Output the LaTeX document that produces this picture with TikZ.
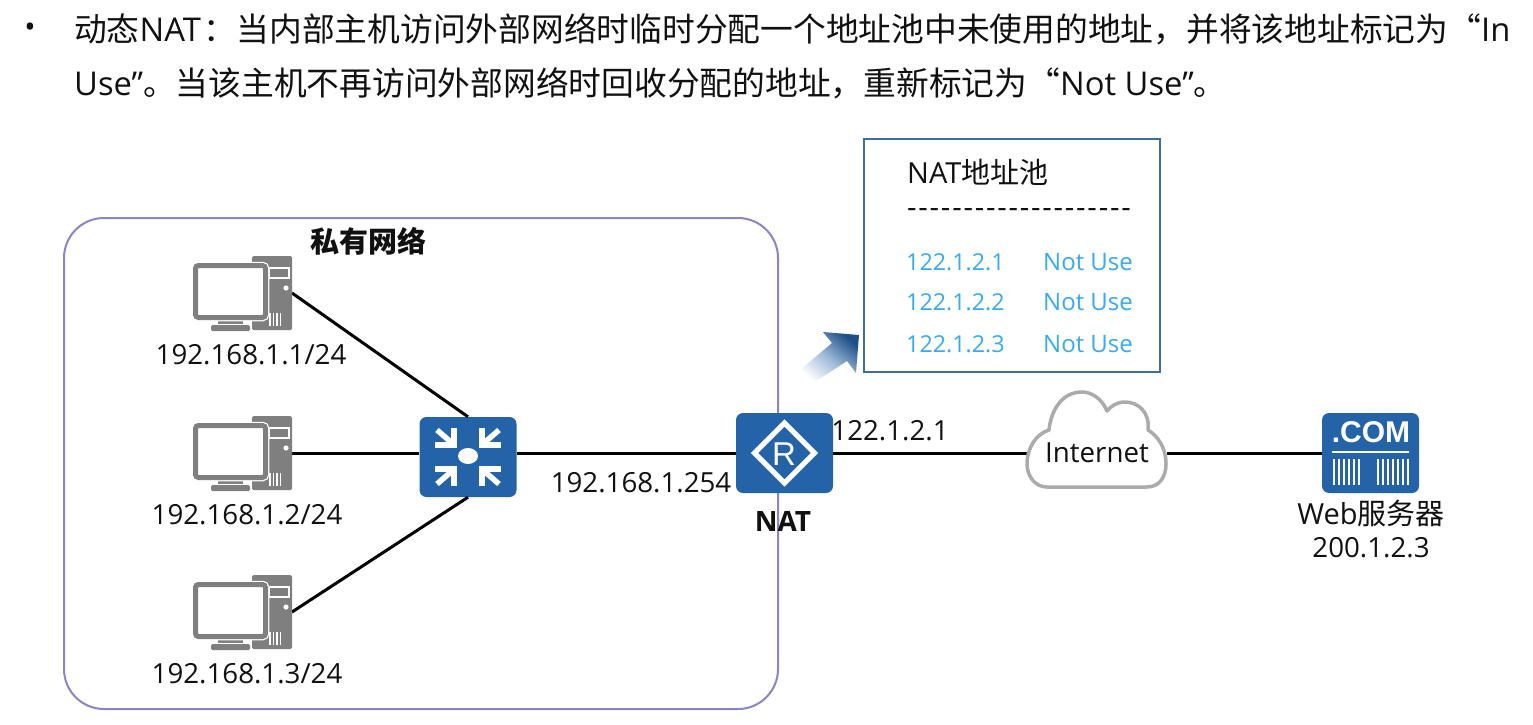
\documentclass[tikz,border=0pt]{standalone}
\usepackage{fontspec}
\setmainfont{Open Sans}
\newfontfamily\cjk{Noto Sans CJK SC}
\newfontfamily\arialb{Liberation Sans}
\newfontfamily\dashf{Open Sans}[LetterSpace=6]
\newcommand{\fsz}[1]{\fontsize{#1}{#1}\selectfont}
\definecolor{hwblue}{HTML}{2563A8}
\definecolor{pcgray}{HTML}{7F7F7F}
\definecolor{netline}{HTML}{8A84C8}
\definecolor{poolline}{HTML}{3F6E9E}
\definecolor{pooltext}{HTML}{36ABF2}
\definecolor{darktext}{HTML}{111111}
\tikzset{
  x=1pt,y=-1pt,
  link/.style={draw=black,line width=3pt},
  lbl/.style={inner sep=0pt,text=darktext,font=\fsz{27.7}},
  toptext/.style={inner sep=0pt,anchor=west,text=darktext,font=\fsz{32.75}},
  pooltxt/.style={inner sep=0pt,anchor=west,text=pooltext,font=\fsz{24}},
  pooladdr/.style={inner sep=0pt,anchor=west,text=pooltext,font=\fsz{23.3}},
  device/.style={draw=none,fill=hwblue,rounded corners=7pt,minimum width=97pt,minimum height=80pt,inner sep=0pt},
  pcbox/.style={inner sep=0pt,minimum width=99pt,minimum height=75pt},
  pc/.pic={
    \fill[pcgray,rounded corners=1.5pt] (0,0) rectangle (40,74);
    \draw[white,line width=1.4pt] (17,12) rectangle (37,22);
    \fill[white] (34,32) circle (2.6);
    \foreach \gx in {18,21.5,25,28.5} \draw[white,line width=1.3pt] (\gx,57) -- (\gx,70);
    \fill[pcgray] (-34,63) rectangle (-9,68);
    \fill[pcgray,rounded corners=1.5pt] (-41,69) rectangle (-2,75);
    \draw[white,line width=7.5pt,rounded corners=3pt,fill=white] (-56.5,9.5) rectangle (13.5,61.5);
    \draw[pcgray,line width=5pt,rounded corners=3pt,fill=white] (-56.5,9.5) rectangle (13.5,61.5);
  },
  swarrow/.pic={
    \draw[white,line width=5.5pt] (-14,-29) -- (-14,-12) -- (-33,-12);
    \draw[white,line width=5.5pt] (-31,-27) -- (-16,-14);
  },
}
\begin{document}
\begin{tikzpicture}
\path[fill=white,use as bounding box] (0,0) rectangle (1533,725);

% heading
\node[inner sep=0pt,text=darktext,font=\fsz{30}] (bullet) at (30,30) {•};
\node[toptext] (line1) at (74,29) {{\cjk 动态}NAT\kern3pt{\cjk ：当内部主机访问外部网络时临时分配一个地址池中未使用的地址，并将该地址标记为“}In};
\node[toptext] (line2) at (74,83.5) {Use”{\cjk 。当该主机不再访问外部网络时回收分配的地址，重新标记为“}Not Use”{\cjk 。}};

% private network
\draw[netline,line width=2pt,rounded corners=40pt] (64,218) rectangle (778,709);
\node[lbl,font=\fsz{29}\cjk\bfseries] (privlabel) at (368,241) {私有网络};

% computers
\node[pcbox] (pc1) at (242.5,293.5) {};
\node[pcbox] (pc2) at (242.5,453.5) {};
\node[pcbox] (pc3) at (242.5,612.5) {};
\coordinate (port1) at (292,293);
\coordinate (port2) at (292,453);
\coordinate (port3) at (292,612);

% devices
\node[device] (sw) at (468,457) {};
\node[device] (rt) at (784.5,453) {};
\node[device] (srv) at (1370.5,453) {};
\node[inner sep=0pt,minimum width=140pt,minimum height=70pt] (cloud) at (1097,453) {};

% links
\draw[link] (port1) -- (sw.north);
\draw[link] (port2) -- (port2 -| sw.west);
\draw[link] (port3) -- (sw.south);
\draw[link] (sw.east |- rt.west) -- (rt.west);
\draw[link] (rt.east) -- (cloud.west);
\draw[link] (cloud.east) -- (srv.west);

% computer icons
\pic at (252,256) {pc};
\pic at (252,416) {pc};
\pic at (252,575) {pc};

% switch icon
\begin{scope}[shift={(sw.center)}]
  \pic {swarrow};
  \pic[xscale=-1] {swarrow};
  \pic[yscale=-1] {swarrow};
  \pic[xscale=-1,yscale=-1] {swarrow};
  \fill[white] (0,-1) ellipse (10 and 8);
\end{scope}

% router icon
\draw[white,line width=5pt] (784.5,423) -- (814.5,453) -- (784.5,483) -- (754.5,453) -- cycle;
\node[inner sep=0pt,text=white,font=\arialb\fsz{33}] (rlabel) at (784,454) {R};

% server icon
\node[inner sep=0pt,text=white,font=\arialb\bfseries\fsz{30}] (comlabel) at (1371,432.5) {.COM};
\draw[white,line width=1.6pt] (1332,452) -- (1408.5,452);
\foreach \bx in {1333.5,1338.5,1343.5,1348.5,1353.5,1358.5,1378,1383,1388,1393,1398,1403,1407.5}
  \draw[white,line width=2pt] (\bx,459) -- (\bx,485);

% cloud
\draw[draw=black!33,line width=3.5pt,fill=white,line join=round]
  (1047,487) -- (1147,487)
  .. controls (1160,487) and (1166,476) .. (1166,464)
  .. controls (1166,448) and (1158,436) .. (1148,430)
  .. controls (1150,412) and (1138,402) .. (1125,402)
  .. controls (1117,402) and (1111,406) .. (1107,411)
  .. controls (1102,399) and (1092,392) .. (1082,392)
  .. controls (1062,392) and (1051,410) .. (1049,430)
  .. controls (1036,434) and (1027,448) .. (1027,464)
  .. controls (1027,476) and (1035,487) .. (1047,487) -- cycle;
\node[lbl] (cloudtext) at (cloud.center) {Internet};

% address pool
\node[draw=poolline,line width=2pt,fill=white,minimum width=296pt,minimum height=233pt,inner sep=0pt] (pool) at (1012,255.5) {};
\node[inner sep=0pt,anchor=west,text=darktext,font=\fsz{29}] (pooltitle) at (907,172) {NAT{\cjk 地址池}};
\node[inner sep=0pt,anchor=west,text=darktext,font=\dashf\fsz{29.5}] (pooldash) at (907,213) {--------------------};
\node[pooladdr] (a1) at (906,262) {122.1.2.1};
\node[pooltxt] (s1) at (1043,262) {Not Use};
\node[pooladdr] (a2) at (906,302.5) {122.1.2.2};
\node[pooltxt] (s2) at (1043,302.5) {Not Use};
\node[pooladdr] (a3) at (906,344.5) {122.1.2.3};
\node[pooltxt] (s3) at (1043,344.5) {Not Use};

% gradient arrow
\shade[shading=axis,left color=white,right color=hwblue!80!black,middle color=hwblue!45!white,shading angle=140]
  (823,332) -- (859,335) -- (856,373) -- (847,361) -- (810,385) -- (800,370) -- (832,343) -- cycle;

% labels
\node[lbl] (lpc1) at (251,355) {192.168.1.1/24};
\node[lbl] (lpc2) at (247,515) {192.168.1.2/24};
\node[lbl] (lpc3) at (247,674) {192.168.1.3/24};
\node[lbl] (lgw) at (641,483) {192.168.1.254};
\node[lbl] (lwan) at (890,431) {122.1.2.1};
\node[lbl,font=\fsz{28}\bfseries] (lnat) at (783,521) {NAT};
\node[lbl,font=\fsz{29}] (lweb) at (1371,513) {Web{\cjk 服务器}};
\node[lbl] (lwebip) at (1371,548) {200.1.2.3};
\end{tikzpicture}
\end{document}
